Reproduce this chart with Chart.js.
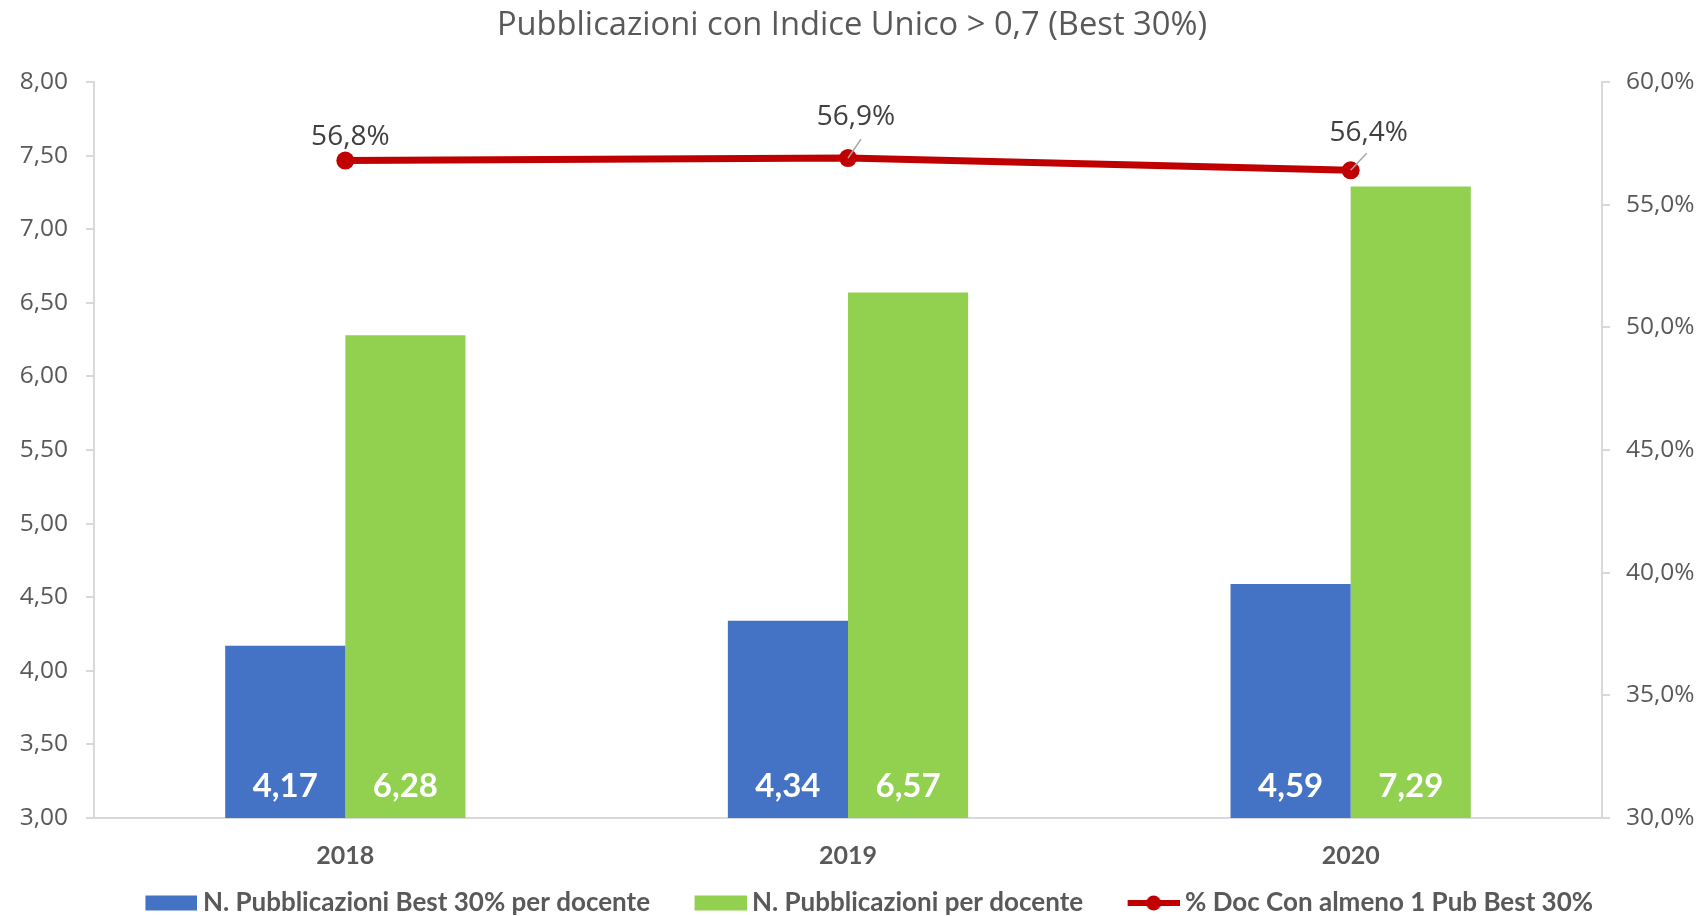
<!DOCTYPE html>
<html><head><meta charset="utf-8">
<script src="https://cdn.jsdelivr.net/npm/chart.js@4"></script>
<style>html,body{margin:0;padding:0;background:#fff}</style>
</head><body>
<canvas id="c" width="1704" height="916" style="display:block;width:1704px;height:916px"></canvas>
<script>
// ---- data ----
const categories = ['2018', '2019', '2020'];
const bestPerDoc = [4.17, 4.34, 4.59];
const pubPerDoc = [6.28, 6.57, 7.29];
const pctDocBest = [56.8, 56.9, 56.4];
const seriesNames = ['N. Pubblicazioni Best 30% per docente', 'N. Pubblicazioni per docente', '% Doc Con almeno 1 Pub Best 30%'];
const leftTicks = [3.0, 3.5, 4.0, 4.5, 5.0, 5.5, 6.0, 6.5, 7.0, 7.5, 8.0];
const rightTicks = [30, 35, 40, 45, 50, 55, 60];
const chartTitle = 'Pubblicazioni con Indice Unico > 0,7 (Best 30%)';

// ---- style ----
const C_BLUE = '#4472C4', C_GREEN = '#92D050', C_RED = '#C00000';
const C_TEXT = '#595959', C_AXIS = '#D9D9D9';
const SEGOE = "'Open Sans', 'Noto Sans', sans-serif";
const CALIBRI = "Lato, 'Liberation Sans', sans-serif";
const lineLabelStyle = [
  {dx: 5, dy: -24, leader: null},
  {dx: 8, dy: -41, leader: {x: 13, y: -19}},
  {dx: 18, dy: -37, leader: {x: 16, y: -17}}
];
const fmt2 = v => Number(v).toFixed(2).replace('.', ',');
const fmtPct1 = v => Number(v).toFixed(1).replace('.', ',') + '%';

// legend icons (transparent left margin gives the spacing between legend items)
const ICON_W = 94, ICON_H = 20, ICON_MARK = 52;
function makeIcon(kind, color) {
  const cv = document.createElement('canvas');
  cv.width = ICON_W; cv.height = ICON_H;
  const g = cv.getContext('2d');
  const x0 = ICON_W - ICON_MARK, cy = ICON_H / 2;
  g.fillStyle = color; g.strokeStyle = color;
  if (kind === 'rect') {
    g.fillRect(x0, cy - 7.5, ICON_MARK, 15);
  } else {
    g.lineWidth = 6;
    g.beginPath(); g.moveTo(x0, cy); g.lineTo(ICON_W, cy); g.stroke();
    g.beginPath(); g.arc(x0 + ICON_MARK / 2, cy, 7.5, 0, Math.PI * 2); g.fill();
  }
  return cv;
}
const legendIcons = [makeIcon('rect', C_BLUE), makeIcon('rect', C_GREEN), makeIcon('line', C_RED)];

const valueLabels = {
  id: 'valueLabels',
  afterDatasetsDraw(chart) {
    const ctx = chart.ctx;
    const yScale = chart.scales.y;
    const basePx = yScale.getPixelForValue(yScale.min);
    ctx.save();
    [0, 1].forEach(di => {
      const meta = chart.getDatasetMeta(di);
      meta.data.forEach((bar, i) => {
        const v = chart.data.datasets[di].data[i];
        ctx.font = 'bold 33px ' + CALIBRI;
        ctx.fillStyle = '#FFFFFF';
        ctx.textAlign = 'center';
        ctx.textBaseline = 'middle';
        ctx.fillText(fmt2(v), bar.x, basePx - 31.5);
      });
    });
    const lm = chart.getDatasetMeta(2);
    lm.data.forEach((pt, i) => {
      const v = chart.data.datasets[2].data[i];
      const s = lineLabelStyle[i];
      if (s.leader) {
        ctx.strokeStyle = '#A6A6A6'; ctx.lineWidth = 1.5;
        ctx.beginPath();
        ctx.moveTo(pt.x, pt.y);
        ctx.lineTo(pt.x + s.leader.x, pt.y + s.leader.y);
        ctx.stroke();
      }
      ctx.font = '28px ' + SEGOE;
      ctx.fillStyle = '#404040';
      ctx.textAlign = 'center';
      ctx.textBaseline = 'middle';
      ctx.fillText(fmtPct1(v), pt.x + s.dx, pt.y + s.dy);
    });
    ctx.restore();
  }
};

new Chart(document.getElementById('c'), {
  data: {
    labels: categories,
    datasets: [
      {type: 'bar', label: seriesNames[0], data: bestPerDoc, backgroundColor: C_BLUE, yAxisID: 'y', order: 1,
       categoryPercentage: 0.478, barPercentage: 1.0},
      {type: 'bar', label: seriesNames[1], data: pubPerDoc, backgroundColor: C_GREEN, yAxisID: 'y', order: 1,
       categoryPercentage: 0.478, barPercentage: 1.0},
      {type: 'line', label: seriesNames[2], data: pctDocBest, borderColor: C_RED, backgroundColor: C_RED,
       yAxisID: 'y1', order: 0, borderWidth: 7, pointRadius: 9, pointHoverRadius: 9,
       pointBackgroundColor: C_RED, pointBorderWidth: 0, tension: 0, fill: false}
    ]
  },
  options: {
    responsive: false,
    animation: false,
    devicePixelRatio: 1,
    layout: {padding: {left: 0, right: 0, top: 0, bottom: -10}},
    plugins: {
      tooltip: {enabled: false},
      title: {
        display: true, text: chartTitle, color: C_TEXT,
        font: {family: SEGOE, size: 32.7, weight: 'normal', lineHeight: 1.2},
        padding: {top: 6.5, bottom: 36.3}
      },
      legend: {
        position: 'bottom',
        labels: {
          usePointStyle: true, pointStyleWidth: 79, boxHeight: 15,
          padding: 10, color: C_TEXT,
          font: {family: CALIBRI, size: 26, weight: 'bold'},
          generateLabels(chart) {
            const items = Chart.defaults.plugins.legend.labels.generateLabels(chart);
            items.sort((a, b) => a.datasetIndex - b.datasetIndex);
            items.forEach(it => { it.pointStyle = legendIcons[it.datasetIndex]; it.lineWidth = 0; });
            return items;
          }
        }
      }
    },
    scales: {
      x: {
        grid: {display: false},
        border: {display: true, color: C_AXIS, width: 2},
        ticks: {color: C_TEXT, font: {family: CALIBRI, size: 25, weight: 'bold'}, padding: 15},
        afterFit(s) { s.height = 62; }
      },
      y: {
        position: 'left', min: 3, max: 8,
        afterBuildTicks(s) { s.ticks = leftTicks.map(v => ({value: v})); },
        ticks: {callback: v => fmt2(v), color: C_TEXT, font: {family: SEGOE, size: 24.5}, padding: 18},
        grid: {drawOnChartArea: false, drawTicks: true, tickLength: 8, color: C_AXIS, lineWidth: 2},
        border: {display: true, color: C_AXIS, width: 2},
        afterFit(s) { s.width = 94; }
      },
      y1: {
        position: 'right', min: 30, max: 60,
        afterBuildTicks(s) { s.ticks = rightTicks.map(v => ({value: v})); },
        ticks: {callback: v => fmtPct1(v), color: C_TEXT, font: {family: SEGOE, size: 24.5}, padding: 16},
        grid: {drawOnChartArea: false, drawTicks: true, tickLength: 8, color: C_AXIS, lineWidth: 2},
        border: {display: true, color: C_AXIS, width: 2},
        afterFit(s) { s.width = 102; }
      }
    }
  },
  plugins: [valueLabels]
});
</script>
</body></html>
